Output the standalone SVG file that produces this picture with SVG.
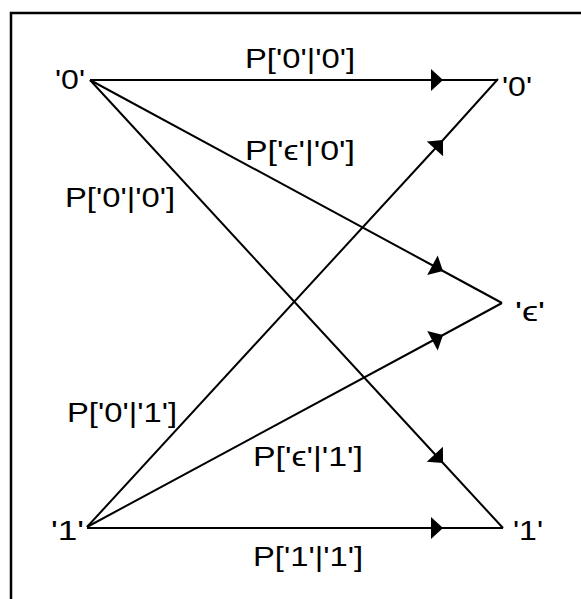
<svg xmlns="http://www.w3.org/2000/svg" width="581" height="599" viewBox="0 0 581 599">
<style>
.lbl{font-family:"Liberation Sans","DejaVu Sans",sans-serif;font-size:28px;fill:#000}
.edge{fill:none;stroke:#000;stroke-width:2;marker-mid:url(#ah)}
.frame{fill:none;stroke:#000;stroke-width:2.5}
</style>
<defs>
<marker id="ah" markerUnits="userSpaceOnUse" markerWidth="16" markerHeight="24" viewBox="0 0 16 24" refX="13" refY="12" orient="auto">
<path d="M1,1 L13,12 L1,23 Z" fill="#000"/>
</marker>
</defs>
<path class="frame" d="M11,600 L11,13 L582,13"/>
<g id="connectors">
<polyline class="edge" points="90,80 443,80 498,80"/>
<polyline class="edge" points="90,80 443,271 502,303"/>
<polyline class="edge" points="90,80 443,463 503,528"/>
<polyline class="edge" points="87,527 443,140 498,79"/>
<polyline class="edge" points="87,527 443,335 502,303"/>
<polyline class="edge" points="87,528 443,528 503,528"/>
</g>
<g id="in0"><text class="lbl" x="55" y="89" textLength="30" lengthAdjust="spacingAndGlyphs">'0'</text></g>
<g id="in1"><text class="lbl" x="51" y="540" textLength="33" lengthAdjust="spacingAndGlyphs">'1'</text></g>
<g id="out0"><text class="lbl" x="502" y="96" textLength="30" lengthAdjust="spacingAndGlyphs">'0'</text></g>
<g id="outE"><text class="lbl" x="515" y="321" textLength="30" lengthAdjust="spacingAndGlyphs">'ϵ'</text></g>
<g id="out1"><text class="lbl" x="513" y="540" textLength="30" lengthAdjust="spacingAndGlyphs">'1'</text></g>
<g id="labels">
<text class="lbl" x="245" y="68" textLength="110" lengthAdjust="spacingAndGlyphs">P['0'|'0']</text>
<text class="lbl" x="245" y="160" textLength="110" lengthAdjust="spacingAndGlyphs">P['ϵ'|'0']</text>
<text class="lbl" x="65" y="207" textLength="110" lengthAdjust="spacingAndGlyphs">P['0'|'0']</text>
<text class="lbl" x="67" y="422" textLength="110" lengthAdjust="spacingAndGlyphs">P['0'|'1']</text>
<text class="lbl" x="253" y="466" textLength="110" lengthAdjust="spacingAndGlyphs">P['ϵ'|'1']</text>
<text class="lbl" x="253" y="566" textLength="110" lengthAdjust="spacingAndGlyphs">P['1'|'1']</text>
</g>
</svg>
